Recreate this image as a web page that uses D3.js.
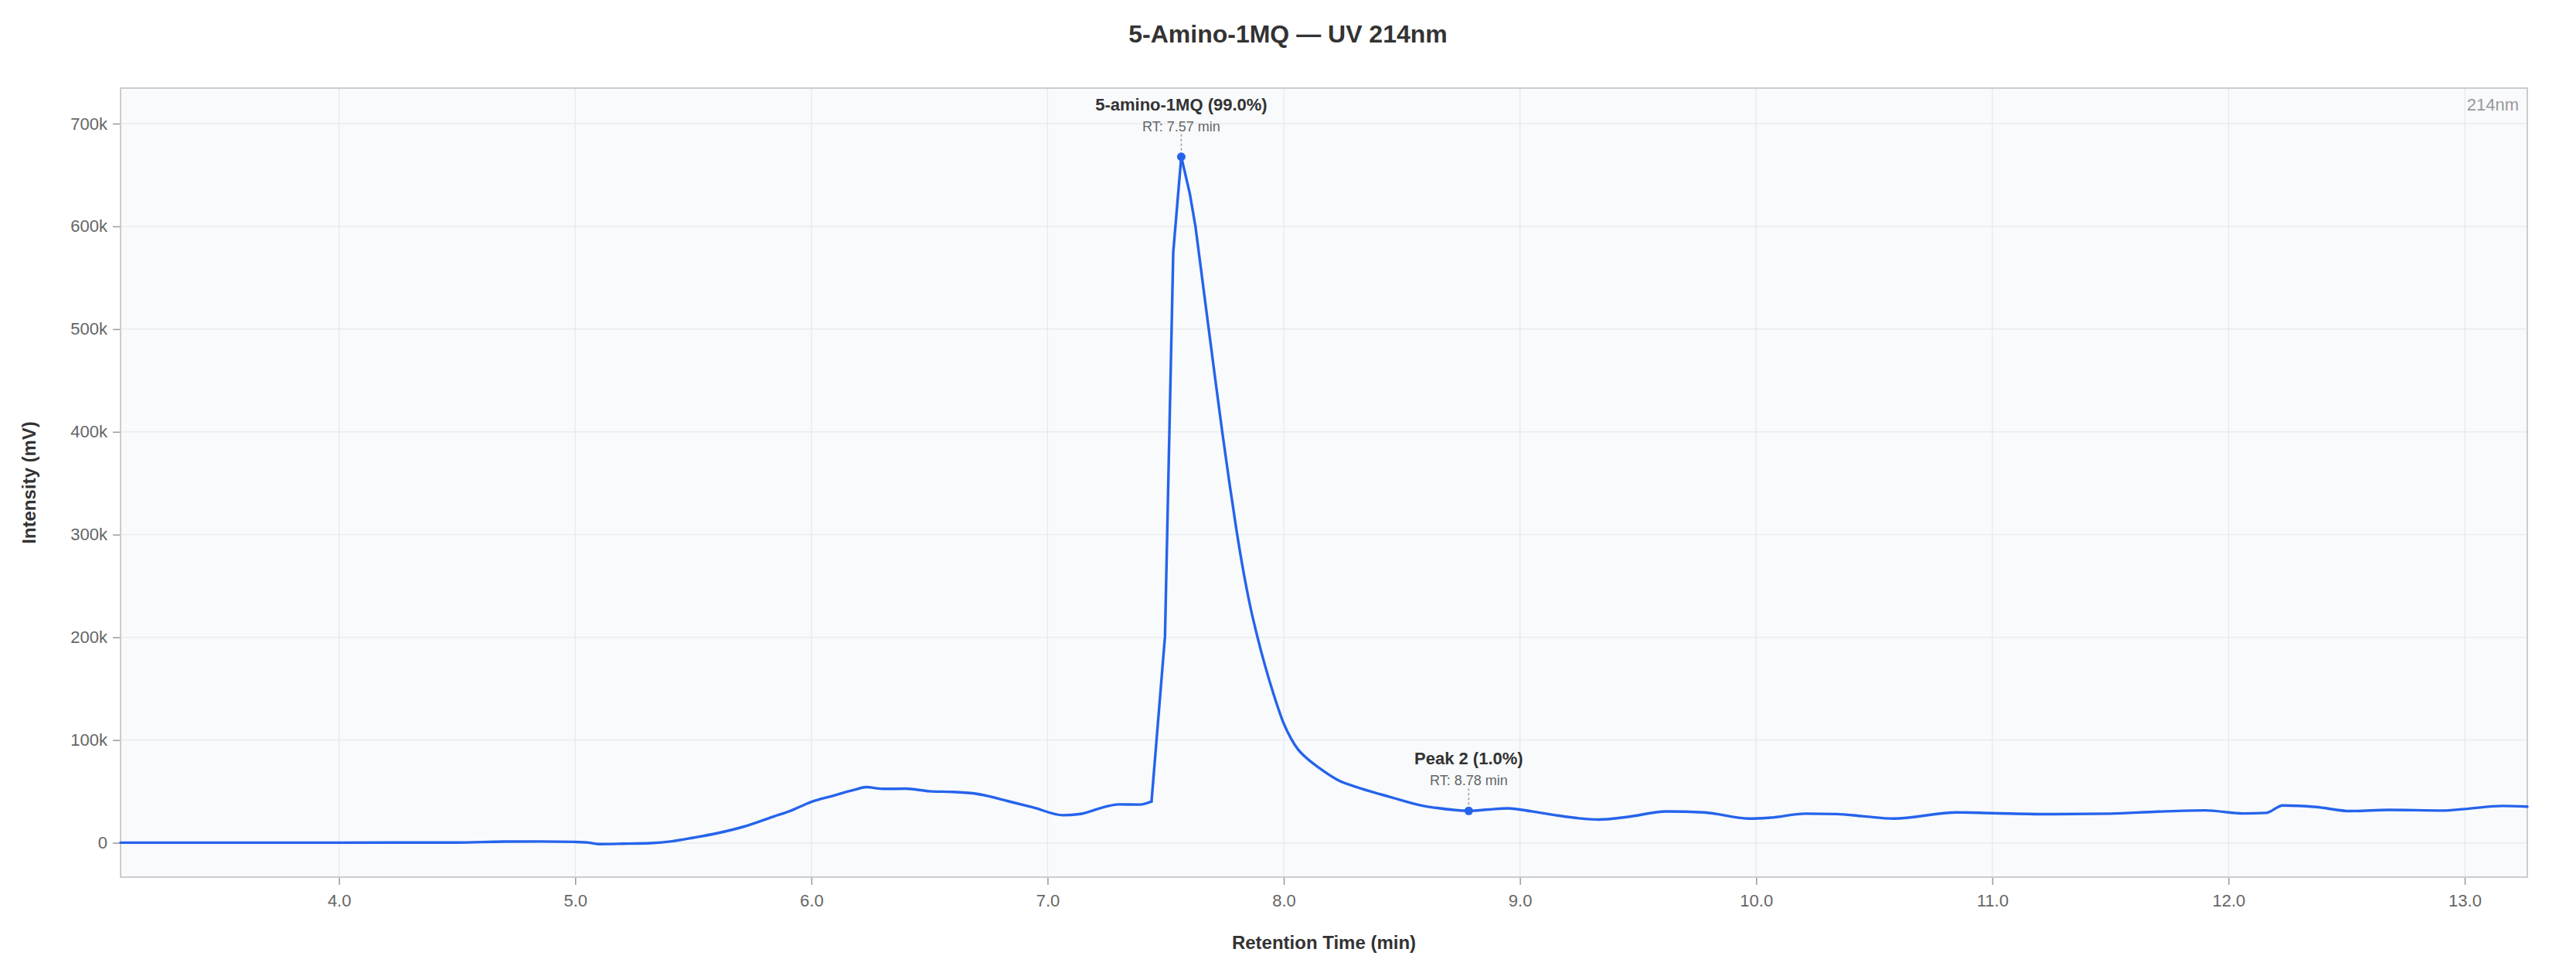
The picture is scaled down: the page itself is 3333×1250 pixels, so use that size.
<!DOCTYPE html>
<html>
<head>
<meta charset="utf-8">
<script src="https://cdn.jsdelivr.net/npm/d3@7"></script>
<style>
  body { margin: 0; background: #fff; }
  svg text { font-family: "Liberation Sans", Arial, sans-serif; }
</style>
</head>
<body>
<svg id="chart"></svg>
<script>
        // CHROMATOGRAM DATA
        var retentionTimes = [
            3.075, 3.5, 4.0, 4.5, 4.7, 4.85, 5.0, 5.05, 5.1, 5.2, 5.32, 5.41, 5.5, 5.6, 5.71,
            5.84, 5.91, 6.0, 6.09, 6.18, 6.233, 6.3, 6.4, 6.5, 6.6, 6.7, 6.83, 6.94, 7.065,
            7.133, 7.245, 7.3, 7.39, 7.44, 7.497, 7.532, 7.566, 7.602, 7.626, 7.653, 7.68,
            7.71, 7.74, 7.77, 7.8, 7.83, 7.86, 7.89, 7.92, 7.955, 8.0, 8.032, 8.06, 8.087,
            8.152, 8.228, 8.315, 8.446, 8.588, 8.649, 8.783, 8.866, 8.95, 9.05, 9.15, 9.25,
            9.334, 9.451, 9.62, 9.78, 9.968, 10.06, 10.208, 10.34, 10.45, 10.582, 10.85, 11.0,
            11.25, 11.5, 11.7, 11.9, 12.064, 12.158, 12.23, 12.37, 12.518, 12.678, 12.905, 13.0,
            13.159, 13.265
        ];
        var intensities = [
            200, 200, 200, 300, 1200, 1300, 900, 400, -1200, -900, -300, 1500, 5000, 9300, 15500,
            25600, 31000, 39800, 45700, 51500, 54200, 52500, 52700, 50200, 49500, 47700, 40700, 34400, 26900,
            27900, 35200, 37400, 37200, 40200, 200800, 575000, 667800, 632000, 600000, 552000, 504000,
            451000, 399000, 350000, 304000, 263000, 228000, 199000, 173000, 146000, 116000, 101000, 91000, 84500,
            72500, 61200, 53700, 44900, 36100, 33900, 31100, 32400, 33600, 30600, 26900, 23900,
            22700, 25100, 30500, 29600, 23600, 24500, 28400, 28000, 25900, 23600, 29600, 28900,
            27900, 28400, 30400, 31600, 28600, 29100, 36400, 34900, 30900, 32100, 31400, 32900,
            35900, 35200
        ];

        // Integrated peaks
        var peakNames = ["5-amino-1MQ", "Peak 2"];
        var peakTimes = [7.566, 8.783];
        var peakAreas = [99.0, 1.0];

        // Axis ticks
        var xTicks = [4, 5, 6, 7, 8, 9, 10, 11, 12, 13];
        var yTicks = [0, 100000, 200000, 300000, 400000, 500000, 600000, 700000];

        var data = retentionTimes.map(function(t, i) {
            return { t: t, v: intensities[i] };
        });

        // Dimensions
        var width = 3333,
            height = 1250,
            margin = { top: 114, right: 63, bottom: 115, left: 156 };
        var plotWidth = width - margin.left - margin.right,
            plotHeight = height - margin.top - margin.bottom;

        var svg = d3.select('#chart')
            .attr('width', width)
            .attr('height', height);

        var maxV = d3.max(intensities);

        var xScale = d3.scaleLinear()
            .domain(d3.extent(retentionTimes))
            .range([0, plotWidth]);

        var yScale = d3.scaleLinear()
            .domain([-maxV * 0.05, maxV * 1.1])
            .range([plotHeight, 0]);

        var g = svg.append('g')
            .attr('transform', 'translate(' + margin.left + ',' + margin.top + ')');

        // plot background
        g.append('rect')
            .attr('width', plotWidth)
            .attr('height', plotHeight)
            .attr('fill', '#f8fafc');

        // grid lines
        g.append('g').selectAll('line')
            .data(xTicks)
            .enter().append('line')
            .attr('x1', function(d) { return xScale(d); })
            .attr('x2', function(d) { return xScale(d); })
            .attr('y1', 0)
            .attr('y2', plotHeight)
            .attr('stroke', '#e6e8ec')
            .attr('stroke-width', 1.2);

        g.append('g').selectAll('line')
            .data(yTicks)
            .enter().append('line')
            .attr('x1', 0)
            .attr('x2', plotWidth)
            .attr('y1', function(d) { return yScale(d); })
            .attr('y2', function(d) { return yScale(d); })
            .attr('stroke', '#e6e8ec')
            .attr('stroke-width', 1.2);

        // axes
        var xAxis = g.append('g')
            .attr('transform', 'translate(0,' + plotHeight + ')')
            .call(d3.axisBottom(xScale).tickValues(xTicks).tickFormat(d3.format('.1f'))
                .tickSize(10).tickPadding(12));

        var yAxis = g.append('g')
            .call(d3.axisLeft(yScale).tickValues(yTicks).tickFormat(d3.format('~s'))
                .tickSize(10).tickPadding(7));

        [xAxis, yAxis].forEach(function(ax) {
            ax.select('.domain').remove();
            ax.selectAll('line').attr('stroke', '#999').attr('stroke-width', 1.5);
            ax.selectAll('text')
                .attr('fill', '#666')
                .style('font-size', '22px');
        });

        // frame
        g.append('rect')
            .attr('width', plotWidth)
            .attr('height', plotHeight)
            .attr('fill', 'none')
            .attr('stroke', '#cccccc')
            .attr('stroke-width', 2);

        // trace: smooth baseline, straight segments through the sharp peak apex
        var peakStart = 7.44, peakEnd = 7.626;

        var smoothLine = d3.line()
            .x(function(d) { return xScale(d.t); })
            .y(function(d) { return yScale(d.v); })
            .curve(d3.curveMonotoneX);

        var straightLine = d3.line()
            .x(function(d) { return xScale(d.t); })
            .y(function(d) { return yScale(d.v); });

        var segments = [
            { pts: data.filter(function(d) { return d.t <= peakStart; }), gen: smoothLine },
            { pts: data.filter(function(d) { return d.t >= peakStart && d.t <= peakEnd; }), gen: straightLine },
            { pts: data.filter(function(d) { return d.t >= peakEnd; }), gen: smoothLine }
        ];

        g.append('g').selectAll('path')
            .data(segments)
            .enter().append('path')
            .attr('fill', 'none')
            .attr('stroke', '#2563eb')
            .attr('stroke-width', 3.4)
            .attr('stroke-linejoin', 'round')
            .attr('stroke-linecap', 'round')
            .attr('d', function(s) { return s.gen(s.pts); });

        // peak annotations
        var peaks = peakNames.map(function(name, i) {
            var idx = retentionTimes.indexOf(peakTimes[i]);
            return { name: name, t: peakTimes[i], v: intensities[idx], pct: peakAreas[i] };
        });

        var ann = g.append('g').selectAll('g')
            .data(peaks)
            .enter().append('g')
            .attr('transform', function(d) {
                return 'translate(' + xScale(d.t) + ',' + yScale(d.v) + ')';
            });

        ann.append('line')
            .attr('y1', -29)
            .attr('y2', -6)
            .attr('stroke', '#999')
            .attr('stroke-width', 1.5)
            .attr('stroke-dasharray', '3,3');

        ann.append('circle')
            .attr('r', 5.5)
            .attr('fill', '#2563eb');

        ann.append('text')
            .attr('y', -60)
            .attr('text-anchor', 'middle')
            .attr('fill', '#333')
            .style('font-size', '22px')
            .style('font-weight', 'bold')
            .text(function(d) { return d.name + ' (' + d.pct.toFixed(1) + '%)'; });

        ann.append('text')
            .attr('y', -33)
            .attr('text-anchor', 'middle')
            .attr('fill', '#666')
            .style('font-size', '18px')
            .text(function(d) { return 'RT: ' + d.t.toFixed(2) + ' min'; });

        // wavelength tag
        g.append('text')
            .attr('x', plotWidth - 11)
            .attr('y', 29)
            .attr('text-anchor', 'end')
            .attr('fill', '#999')
            .style('font-size', '22px')
            .text('214nm');

        // titles
        svg.append('text')
            .attr('x', width / 2)
            .attr('y', 55)
            .attr('text-anchor', 'middle')
            .attr('fill', '#333')
            .style('font-size', '32px')
            .style('font-weight', 'bold')
            .text('5-Amino-1MQ — UV 214nm');

        svg.append('text')
            .attr('x', margin.left + plotWidth / 2)
            .attr('y', 1228)
            .attr('text-anchor', 'middle')
            .attr('fill', '#333')
            .style('font-size', '24px')
            .style('font-weight', 'bold')
            .text('Retention Time (min)');

        svg.append('text')
            .attr('transform', 'translate(46,' + (margin.top + plotHeight / 2) + ') rotate(-90)')
            .attr('text-anchor', 'middle')
            .attr('fill', '#333')
            .style('font-size', '24px')
            .style('font-weight', 'bold')
            .text('Intensity (mV)');
</script>
</body>
</html>
